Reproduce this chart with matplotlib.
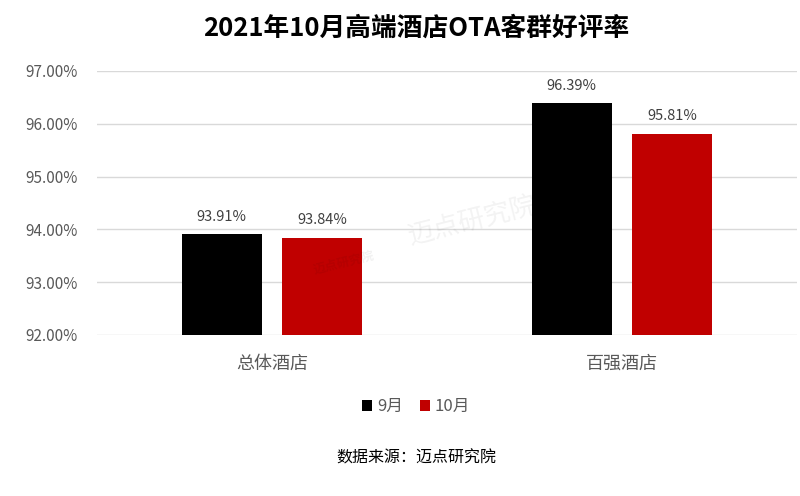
import numpy as np
import matplotlib
matplotlib.use("Agg")
import matplotlib.pyplot as plt

plt.rcParams['font.family'] = ['Noto Sans CJK SC', 'DejaVu Sans']

categories = ["总体酒店", "百强酒店"]
series_names = ["9月", "10月"]
sep_values = [93.91, 96.39]
oct_values = [93.84, 95.81]
colors = ["#000000", "#C00000"]

fig = plt.figure(figsize=(8, 4.96), dpi=100)
ax = fig.add_axes([0.121, 0.3246, 0.875, 0.5324])

x = np.arange(len(categories))
w = 0.2286
off = 0.1429
b1 = ax.bar(x - off, sep_values, w, color=colors[0], label=series_names[0], zorder=3)
b2 = ax.bar(x + off, oct_values, w, color=colors[1], label=series_names[1], zorder=3)

for bars in (b1, b2):
    for b in bars:
        ax.text(b.get_x() + b.get_width() / 2, b.get_height() + 0.2,
                f"{b.get_height():.2f}%", ha="center", va="bottom",
                fontsize=10.5, color="#404040")

ax.set_ylim(92, 97)
ax.set_xlim(-0.5, 1.5)
ax.set_yticks(np.arange(92, 97.1, 1))
ax.set_yticklabels([f"{v:.2f}%" for v in np.arange(92, 97.1, 1)])
ax.set_xticks(x)
ax.set_xticklabels(categories)
ax.tick_params(axis="y", length=0, labelsize=11, labelcolor="#595959", pad=14)
ax.tick_params(axis="x", length=0, labelsize=13, labelcolor="#595959", pad=14)
ax.grid(axis="y", color="#D9D9D9", linewidth=1, zorder=0)
for s in ax.spines.values():
    s.set_visible(False)

fig.text(0.52, 0.943, "2021年10月高端酒店OTA客群好评率", ha="center", va="center",
         fontsize=18.5, fontweight="bold", color="#000000")

# faint watermark
fig.text(0.59, 0.555, "迈点研究院", ha="center", va="center", fontsize=19,
         color="#000000", alpha=0.05, rotation=14)
fig.text(0.43, 0.47, "迈点研究院", ha="center", va="center", fontsize=9,
         color="#000000", alpha=0.06, rotation=14, fontweight="bold")

fig.legend(handles=[b1, b2], labels=series_names, loc="center",
           bbox_to_anchor=(0.52, 0.18), ncol=2, frameon=False,
           fontsize=12, labelcolor="#595959", handlelength=0.6,
           handleheight=0.6, handletextpad=0.3, columnspacing=1.0)

fig.text(0.52, 0.077, "数据来源：迈点研究院", ha="center", va="center",
         fontsize=11.5, color="#000000")

fig.savefig("out.png", dpi=100)
